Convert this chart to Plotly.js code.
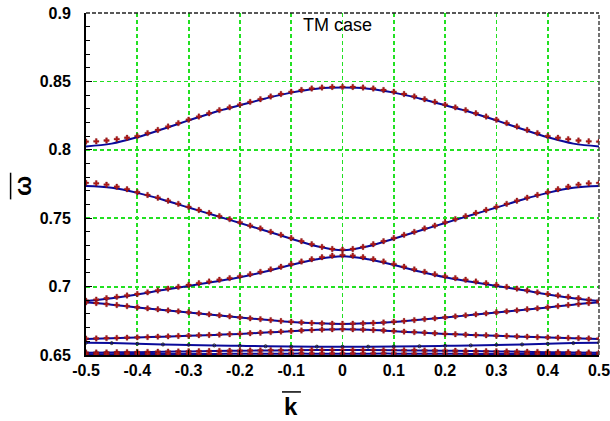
<!DOCTYPE html>
<html>
<head>
<meta charset="utf-8">
<script src="https://cdn.plot.ly/plotly-3.0.1.min.js"></script>
<style>html,body{margin:0;padding:0;background:#fff;}#chart{width:610px;height:421px;}</style>
</head>
<body>
<div id="chart"></div>
<script>
// k values for simulated points (red markers)
const kMarks = [-0.5,-0.48,-0.46,-0.44,-0.42,-0.4,-0.38,-0.36,-0.34,-0.32,-0.3,-0.28,-0.26,-0.24,-0.22,-0.2,-0.18,-0.16,-0.14,-0.12,-0.1,-0.08,-0.06,-0.04,-0.02,0,0.02,0.04,0.06,0.08,0.1,0.12,0.14,0.16,0.18,0.2,0.22,0.24,0.26,0.28,0.3,0.32,0.34,0.36,0.38,0.4,0.42,0.44,0.46,0.48,0.5];
// k values for theory lines (blue)
const kLine = [-0.5,-0.45,-0.4,-0.35,-0.3,-0.25,-0.2,-0.15,-0.1,-0.05,0,0.05,0.1,0.15,0.2,0.25,0.3,0.35,0.4,0.45,0.5];

// simulated bands (red markers)
const red1 = [0.8060,0.8062,0.8068,0.8078,0.8088,0.8100,0.8122,0.8145,0.8170,0.8195,0.8220,0.8243,0.8267,0.8290,0.8310,0.8330,0.8350,0.8370,0.8390,0.8408,0.8424,0.8437,0.8448,0.8455,0.8459,0.8460,0.8459,0.8455,0.8448,0.8437,0.8424,0.8408,0.8390,0.8370,0.8350,0.8330,0.8310,0.8290,0.8267,0.8243,0.8220,0.8195,0.8170,0.8145,0.8122,0.8100,0.8088,0.8078,0.8068,0.8062,0.8060];
const red2 = [0.7758,0.7755,0.7745,0.7730,0.7712,0.7690,0.7670,0.7650,0.7628,0.7605,0.7583,0.7560,0.7538,0.7515,0.7493,0.7470,0.7446,0.7425,0.7400,0.7378,0.7355,0.7332,0.7310,0.7290,0.7275,0.7270,0.7275,0.7290,0.7310,0.7332,0.7355,0.7378,0.7400,0.7425,0.7446,0.7470,0.7493,0.7515,0.7538,0.7560,0.7583,0.7605,0.7628,0.7650,0.7670,0.7690,0.7712,0.7730,0.7745,0.7755,0.7758];
const red3 = [0.6897,0.6905,0.6915,0.6925,0.6935,0.6946,0.6958,0.6972,0.6985,0.6998,0.7012,0.7025,0.7037,0.7050,0.7062,0.7075,0.7090,0.7108,0.7126,0.7145,0.7165,0.7183,0.7200,0.7215,0.7226,0.7230,0.7226,0.7215,0.7200,0.7183,0.7165,0.7145,0.7126,0.7108,0.7090,0.7075,0.7062,0.7050,0.7037,0.7025,0.7012,0.6998,0.6985,0.6972,0.6958,0.6946,0.6935,0.6925,0.6915,0.6905,0.6897];
const red4 = [0.6885,0.6880,0.6872,0.6865,0.6857,0.6849,0.6841,0.6834,0.6826,0.6819,0.6812,0.6804,0.6797,0.6790,0.6782,0.6775,0.6768,0.6762,0.6755,0.6748,0.6743,0.6738,0.6734,0.6731,0.6729,0.6728,0.6729,0.6731,0.6734,0.6738,0.6743,0.6748,0.6755,0.6762,0.6768,0.6775,0.6782,0.6790,0.6797,0.6804,0.6812,0.6819,0.6826,0.6834,0.6841,0.6849,0.6857,0.6865,0.6872,0.6880,0.6885];
const red5 = [0.6620,0.6621,0.6623,0.6625,0.6627,0.6629,0.6631,0.6634,0.6636,0.6639,0.6641,0.6644,0.6646,0.6649,0.6652,0.6655,0.6659,0.6663,0.6667,0.6671,0.6675,0.6679,0.6683,0.6686,0.6688,0.6689,0.6688,0.6686,0.6683,0.6679,0.6675,0.6671,0.6667,0.6663,0.6659,0.6655,0.6652,0.6649,0.6646,0.6644,0.6641,0.6639,0.6636,0.6634,0.6631,0.6629,0.6627,0.6625,0.6623,0.6621,0.6620];
const red7 = [0.6518,0.6518,0.6519,0.6520,0.6521,0.6522,0.6523,0.6524,0.6525,0.6526,0.6527,0.6528,0.6529,0.6530,0.6531,0.6532,0.6533,0.6534,0.6535,0.6535,0.6536,0.6536,0.6537,0.6537,0.6537,0.6537,0.6537,0.6537,0.6537,0.6536,0.6536,0.6535,0.6535,0.6534,0.6533,0.6532,0.6531,0.6530,0.6529,0.6528,0.6527,0.6526,0.6525,0.6524,0.6523,0.6522,0.6521,0.6520,0.6519,0.6518,0.6518];
const red8 = [0.6507,0.6507,0.6507,0.6507,0.6508,0.6508,0.6508,0.6508,0.6508,0.6509,0.6509,0.6509,0.6509,0.6509,0.6510,0.6510,0.6510,0.6510,0.6510,0.6510,0.6511,0.6511,0.6511,0.6511,0.6511,0.6511,0.6511,0.6511,0.6511,0.6511,0.6511,0.6510,0.6510,0.6510,0.6510,0.6510,0.6510,0.6509,0.6509,0.6509,0.6509,0.6509,0.6508,0.6508,0.6508,0.6508,0.6508,0.6507,0.6507,0.6507,0.6507];

// theory bands (blue lines)
const blue1 = [0.8025,0.8045,0.8092,0.8152,0.8215,0.8275,0.8325,0.8375,0.8418,0.8447,0.8455,0.8447,0.8418,0.8375,0.8325,0.8275,0.8215,0.8152,0.8092,0.8045,0.8025];
const blue2 = [0.7735,0.7722,0.7685,0.7635,0.7578,0.7522,0.7465,0.7408,0.7350,0.7295,0.7265,0.7295,0.7350,0.7408,0.7465,0.7522,0.7578,0.7635,0.7685,0.7722,0.7735];
const blue3 = [0.6895,0.6915,0.6942,0.6975,0.7005,0.7035,0.7068,0.7110,0.7158,0.7200,0.7222,0.7200,0.7158,0.7110,0.7068,0.7035,0.7005,0.6975,0.6942,0.6915,0.6895];
const blue4 = [0.6885,0.6868,0.6848,0.6829,0.6811,0.6792,0.6774,0.6758,0.6742,0.6732,0.6727,0.6732,0.6742,0.6758,0.6774,0.6792,0.6811,0.6829,0.6848,0.6868,0.6885];
const blue5 = [0.6617,0.6622,0.6628,0.6634,0.6640,0.6647,0.6654,0.6664,0.6674,0.6684,0.6688,0.6684,0.6674,0.6664,0.6654,0.6647,0.6640,0.6634,0.6628,0.6622,0.6617];
const blue6 = [0.6590,0.6587,0.6582,0.6577,0.6574,0.6570,0.6567,0.6564,0.6562,0.6561,0.6561,0.6561,0.6562,0.6564,0.6567,0.6570,0.6574,0.6577,0.6582,0.6587,0.6590];
const blue7 = [0.6517,0.6519,0.6521,0.6524,0.6526,0.6529,0.6531,0.6533,0.6535,0.6536,0.6536,0.6536,0.6535,0.6533,0.6531,0.6529,0.6526,0.6524,0.6521,0.6519,0.6517];
const blue8 = [0.6506,0.6506,0.6507,0.6507,0.6508,0.6508,0.6509,0.6509,0.6510,0.6510,0.6510,0.6510,0.6510,0.6509,0.6509,0.6508,0.6508,0.6507,0.6507,0.6506,0.6506];

const xTicks = [-0.5,-0.4,-0.3,-0.2,-0.1,0,0.1,0.2,0.3,0.4,0.5];
const xTickText = ['-0.5','-0.4','-0.3','-0.2','-0.1','0','0.1','0.2','0.3','0.4','0.5'];
const yTicks = [0.65,0.7,0.75,0.8,0.85,0.9];
const yTickText = ['0.65','0.7','0.75','0.8','0.85','0.9'];

const blues = [blue1,blue2,blue3,blue4,blue5,blue6,blue7,blue8];
const reds = [red1,red2,red3,red4,red5,red7,red8];

const traces = [];
blues.forEach((b,i)=>{
  traces.push({x:kLine,y:b,type:'scatter',mode: i===5 ? 'lines+markers' : 'lines',
    line:{color:'#0a0a9a',width:2,shape:'spline'},
    marker:{symbol:'circle-open',size:3,color:'#222',line:{width:1,color:'#222'}},
    hoverinfo:'skip',showlegend:false});
});
reds.forEach(r=>{
  traces.push({x:kMarks,y:r,type:'scatter',mode:'markers',
    marker:{symbol:'cross',size:4.5,color:'#b01818',line:{width:0.3,color:'#6a0000'}},
    hoverinfo:'skip',showlegend:false});
});

const fontTick = {family:'Liberation Sans, Arial, sans-serif',size:16,color:'#000',weight:'bold'};
const green = '#22e022';

const layout = {
  width:610,height:421,
  margin:{l:86,r:11,t:13,b:66,pad:0},
  paper_bgcolor:'#fff',plot_bgcolor:'#fff',
  showlegend:false,
  xaxis:{range:[-0.5,0.5],tickvals:xTicks,ticktext:xTickText,
    showgrid:true,gridcolor:green,gridwidth:1.8,griddash:'4px,3px',
    showline:true,linecolor:'#000',linewidth:2,
    ticks:'inside',ticklen:5,tickcolor:'#000',tickwidth:1,
    tickfont:fontTick,ticklabelstandoff:0,ticklabeloverflow:'allow',zeroline:false,fixedrange:true},
  yaxis:{range:[0.65,0.9],tickvals:yTicks,ticktext:yTickText,
    showgrid:true,gridcolor:green,gridwidth:1.8,griddash:'4px,3px',
    showline:true,linecolor:'#000',linewidth:2,
    ticks:'inside',ticklen:6,tickcolor:'#000',tickwidth:1,
    minor:{dtick:0.01,ticks:'inside',ticklen:4,tickcolor:'#000',tickwidth:1,showgrid:false},
    tickfont:fontTick,ticklabelstandoff:10,ticklabeloverflow:'allow',zeroline:false,fixedrange:true},
  annotations:[
    {text:'TM case',xref:'paper',yref:'paper',x:0.49,y:0.965,xanchor:'center',yanchor:'middle',
     showarrow:false,font:{family:'Liberation Sans, Arial, sans-serif',size:18,color:'#000'}},
    {text:'k',xref:'paper',yref:'paper',x:0.3996,y:-0.152,xanchor:'center',yanchor:'middle',
     showarrow:false,font:{family:'Liberation Sans, Arial, sans-serif',size:24,color:'#000',weight:'bold'}},
    {text:'ω',xref:'paper',yref:'paper',x:-0.125,y:0.494,xanchor:'center',yanchor:'middle',textangle:-90,
     showarrow:false,font:{family:'Liberation Sans, Arial, sans-serif',size:24,color:'#000',weight:'bold'}}
  ],
  shapes:[
    {type:'line',xref:'paper',yref:'paper',x0:0,x1:1,y0:1,y1:1,line:{color:'#222',width:1.5,dash:'4px,2px'}},
    {type:'line',xref:'paper',yref:'paper',x0:1,x1:1,y0:0,y1:1,line:{color:'#444',width:1.5,dash:'4px,2px'}},
    {type:'line',xref:'paper',yref:'paper',x0:0.382,x1:0.419,y0:-0.108,y1:-0.108,line:{color:'#000',width:1.5}},
    {type:'line',xref:'paper',yref:'paper',x0:-0.147,x1:-0.147,y0:0.455,y1:0.533,line:{color:'#000',width:1.5}}
  ]
};

Plotly.newPlot('chart',traces,layout,{displayModeBar:false,staticPlot:true});
</script>
</body>
</html>
